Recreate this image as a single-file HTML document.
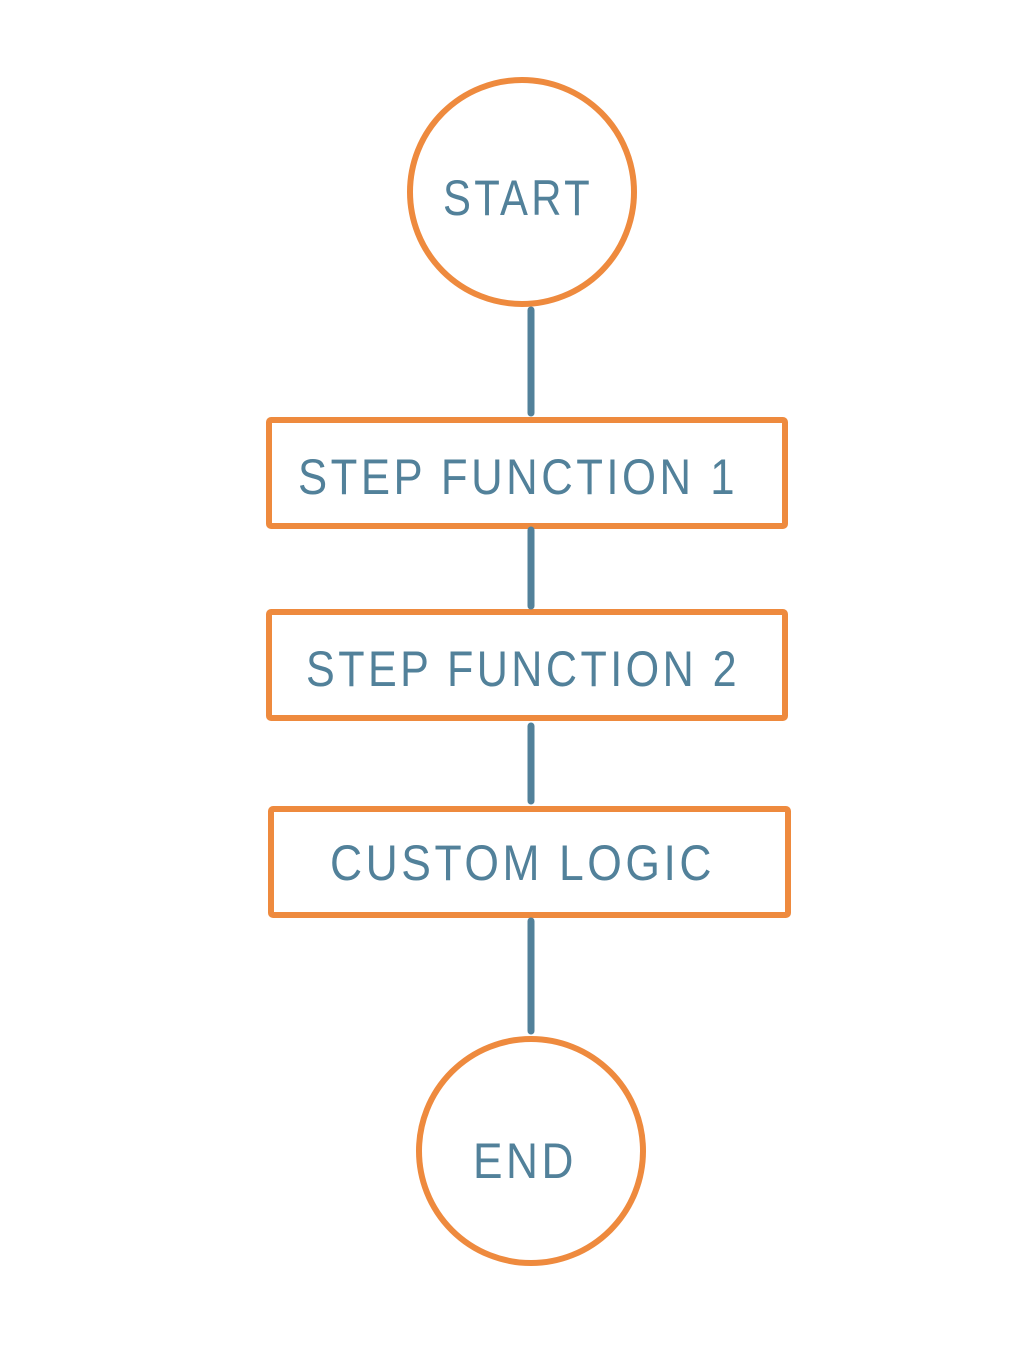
<!DOCTYPE html>
<html><head><style>
html,body{margin:0;padding:0;background:#fff;}
svg{display:block;}
text{font-family:"Liberation Sans",sans-serif;fill:#52819A;font-size:50px;letter-spacing:4px;}
</style></head><body>
<svg width="1012" height="1350" viewBox="0 0 1012 1350">
<g fill="none" stroke="#EE8A3E" stroke-width="6">
<circle cx="522" cy="192" r="112"/>
<rect x="269" y="420" width="516" height="106" rx="2"/>
<rect x="269" y="612" width="516" height="106" rx="2"/>
<rect x="271" y="809" width="517" height="106" rx="2"/>
<circle cx="531" cy="1151" r="112"/>
</g>
<g stroke="#52819A" stroke-width="7" stroke-linecap="round">
<line x1="531" y1="310" x2="531" y2="413"/>
<line x1="531" y1="530" x2="531" y2="606"/>
<line x1="531" y1="726" x2="531" y2="801"/>
<line x1="531" y1="921" x2="531" y2="1031"/>
</g>
<text x="443" y="215" textLength="150" lengthAdjust="spacingAndGlyphs">START</text>
<text x="298" y="494" textLength="440" lengthAdjust="spacingAndGlyphs">STEP FUNCTION  1</text>
<text x="306" y="686" textLength="434" lengthAdjust="spacingAndGlyphs">STEP FUNCTION 2</text>
<text x="330" y="880" textLength="385" lengthAdjust="spacingAndGlyphs">CUSTOM LOGIC</text>
<text x="473" y="1178" textLength="104" lengthAdjust="spacingAndGlyphs">END</text>
</svg>
</body></html>
